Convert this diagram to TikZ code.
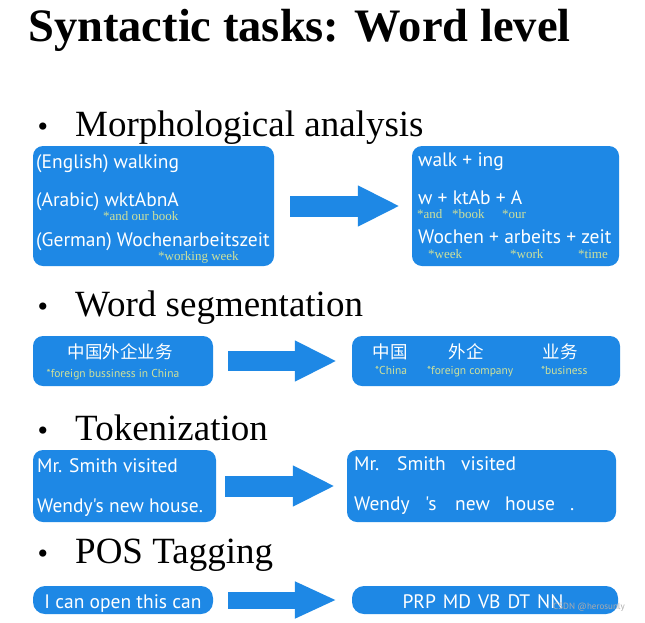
\documentclass[tikz,border=0pt]{standalone}
\usepackage{fontspec}
\setmainfont{Liberation Serif}
\setsansfont[Ligatures=TeXOff]{PT Sans}
\newfontfamily\cjkfont{Noto Sans CJK SC}
\usetikzlibrary{arrows.meta}
\definecolor{nlpblue}{HTML}{1E88E5}
\definecolor{glossgreen}{HTML}{CFE19A}

\begin{document}
\begin{tikzpicture}[x=1pt, y=-1pt,
  box/.style={fill=nlpblue, rounded corners=10pt, inner sep=0pt},
  txt/.style={text=white, inner sep=0pt, anchor=base west,
              font=\fontsize{19.5}{22}\selectfont\sffamily},
  cjk/.style={txt, anchor=base, font=\fontsize{17.5}{20}\selectfont\cjkfont},
  gloss/.style={text=glossgreen, inner sep=0pt, anchor=base west,
              font=\fontsize{13}{15}\selectfont},
  sgloss/.style={gloss, font=\fontsize{11.5}{13}\selectfont\sffamily},
  heading/.style={inner sep=0pt, anchor=base west,
              font=\fontsize{37}{40}\selectfont},
  dot/.style={heading, anchor=base, font=\fontsize{30}{36}\selectfont},
  bigarr/.style={-{Triangle[length=42pt,width=38pt]}, line width=21pt,
              draw=nlpblue}
]
\fill[white] (0,0) rectangle (645,622);

\node[inner sep=0pt, anchor=base west, font=\fontsize{46.5}{50}\selectfont\bfseries]
  (title) at (28,41) {Syntactic tasks: Word level};

% section headings
\node[dot]     (bmorph) at (43,136) {\textbullet};
\node[heading] (hmorph) at (75,136) {Morphological analysis};
\node[dot]     (bseg)   at (43,316) {\textbullet};
\node[heading] (hseg)   at (75,316) {Word segmentation};
\node[dot]     (btok)   at (43,440) {\textbullet};
\node[heading] (htok)   at (75,440) {Tokenization};
\node[dot]     (bpos)   at (43,563) {\textbullet};
\node[heading] (hpos)   at (75,563) {POS Tagging};

% boxes
\node[box, minimum width=241pt, minimum height=120pt] (morphin)  at (153.5,206) {};
\node[box, minimum width=207pt, minimum height=120pt] (morphout) at (515.5,206) {};
\node[box, minimum width=180pt, minimum height=50pt]  (segin)    at (123,361) {};
\node[box, minimum width=268pt, minimum height=50pt]  (segout)   at (486,361) {};
\node[box, minimum width=183pt, minimum height=72pt]  (tokin)    at (124.5,486) {};
\node[box, minimum width=269pt, minimum height=72pt]  (tokout)   at (481.5,486) {};
\node[box, minimum width=180pt, minimum height=28pt, rounded corners=12pt] (posin)  at (123,600) {};
\node[box, minimum width=266pt, minimum height=28pt, rounded corners=12pt] (posout) at (485,600) {};

% arrows
\draw[bigarr, shorten <=16pt, shorten >=12pt] (morphin) -- (morphout);
\draw[bigarr, line width=20pt, shorten <=15pt, shorten >=15pt] (segin) -- (segout);
\draw[bigarr, shorten <=9pt, shorten >=12pt] (tokin) -- (tokout);
\draw[bigarr, line width=17pt, -{Triangle[length=42pt,width=34pt]},
      shorten <=15pt, shorten >=15pt] (posin) -- (posout);

% morphological analysis
\node[txt]   (eng)    at (36,168) {(English) walking};
\node[txt]   (ara)    at (36,206) {(Arabic) wktAbnA};
\node[gloss] (aragl)  at (103,220) {*and our book};
\node[txt]   (ger)    at (36,246) {(German) Wochenarbeitszeit};
\node[gloss] (gergl)  at (158,260) {*working week};

\node[txt]   (walk)   at (418,166) {walk + ing};
\node[txt]   (wktab)  at (418,204) {w + ktAb + A};
\node[gloss] (glw)    at (417,218) {*and};
\node[gloss] (glktab) at (452,218) {*book};
\node[gloss] (gla)    at (502,218) {*our};
\node[txt]   (wochen) at (418,243) {Wochen + arbeits + zeit};
\node[gloss] (glwo)   at (428,258) {*week};
\node[gloss] (glar)   at (510,258) {*work};
\node[gloss] (glze)   at (578,258) {*time};

% word segmentation
\node[cjk]    (zhsrc)   at (120,358) {中国外企业务};
\node[sgloss, anchor=base] (zhsrcgl) at (113,377) {*foreign bussiness in China};
\node[cjk]    (zhchina) at (390,358) {中国};
\node[cjk]    (zhwaiqi) at (466,358) {外企};
\node[cjk]    (zhyewu)  at (560,358) {业务};
\node[sgloss] (glchina) at (375,374) {*China};
\node[sgloss] (glwaiqi) at (427,374) {*foreign company};
\node[sgloss] (glyewu)  at (541,374) {*business};

% tokenization
\node[txt] (toka) at (37,472) {Mr. Smith visited};
\node[txt] (tokb) at (37,512) {Wendy's new house.};
\node[txt] (tmr)    at (354,470) {Mr.};
\node[txt] (tsmith) at (397,470) {Smith};
\node[txt] (tvis)   at (461,470) {visited};
\node[txt] (twendy) at (354,510) {Wendy};
\node[txt] (ts)     at (425,510) {'s};
\node[txt] (tnew)   at (455,510) {new};
\node[txt] (thouse) at (505,510) {house};
\node[txt] (tdot)   at (570,510) {.};

% POS tagging
\node[txt, anchor=base] (possrc)  at (123,608) {I can open this can};
\node[txt, anchor=base] (postags) at (483,608)
  {PRP\hspace{7pt}MD\hspace{7pt}VB\hspace{7pt}DT\hspace{7pt}NN};
\node[inner sep=0pt, anchor=base west, text=gray!65,
      font=\fontsize{9}{10}\selectfont\sffamily] (wmark) at (553,609) {CSDN @herosunly};
\end{tikzpicture}
\end{document}
